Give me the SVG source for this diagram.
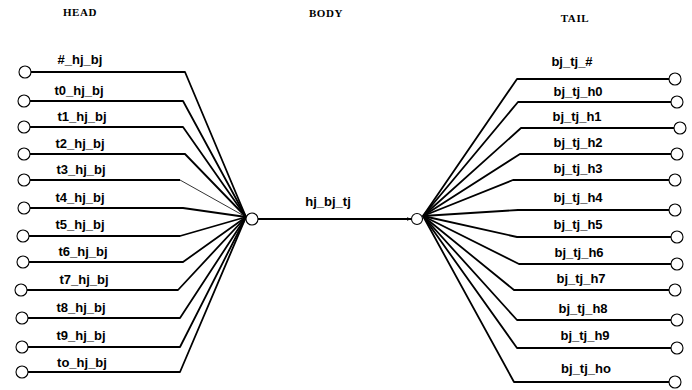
<svg xmlns="http://www.w3.org/2000/svg" width="692" height="390" viewBox="0 0 692 390">
<style>
.hdr{font-family:"Liberation Serif","Times New Roman",serif;font-weight:bold;font-size:11px;letter-spacing:0.6px;fill:#000;text-anchor:middle}
.lbl{font-family:"Liberation Sans",Arial,sans-serif;font-weight:bold;font-size:13px;fill:#000;text-anchor:middle}
.ln{fill:none;stroke:#000;stroke-width:1.8;stroke-linejoin:round}
.thin{stroke-width:0.8}
.port{fill:#fff;stroke:#000;stroke-width:1.1}
</style>
<defs>
<marker id="arr" viewBox="0 0 10 10" refX="9" refY="5" markerWidth="5" markerHeight="5" orient="auto" markerUnits="userSpaceOnUse">
<path d="M0,1 L10,5 L0,9 z" fill="#000"/>
</marker>
</defs>
<rect width="692" height="390" fill="#fff"/>
<g id="headers">
<text class="hdr" x="80" y="16">HEAD</text>
<text class="hdr" x="326" y="17">BODY</text>
<text class="hdr" x="575" y="22">TAIL</text>
</g>
<g id="connectors">
<polyline class="ln" points="31,72 185,72 246,217"/>
<polyline class="ln" points="30,101 183,101 246,217"/>
<polyline class="ln" points="30,127 183,127 246,217"/>
<polyline class="ln" points="30,154 185,154 246,217"/>
<polyline class="ln" points="30,180 180,180"/>
<line class="ln thin" x1="180" y1="180" x2="246" y2="217"/>
<polyline class="ln" points="30,208 183,208 246,217"/>
<polyline class="ln" points="29,236 180,236 246,217"/>
<polyline class="ln" points="29,262 183,262 246,217"/>
<polyline class="ln" points="27,290 178,290 246,217"/>
<polyline class="ln" points="28,318 180,318 246,217"/>
<polyline class="ln" points="28,347 180,347 246,217"/>
<polyline class="ln" points="28,372 180,372 246,217"/>
<line class="ln" x1="258" y1="219" x2="411" y2="219" stroke-width="1.6" marker-end="url(#arr)"/>
<polyline class="ln" points="669,79 517,79 423,216"/>
<polyline class="ln" points="671,102 518,102 423,216"/>
<polyline class="ln" points="674,128 521,128 423,216"/>
<polyline class="ln" points="671,154 520,154 423,216"/>
<polyline class="ln" points="669,180 513,180 423,216"/>
<polyline class="ln" points="669,210 518,210 423,216"/>
<polyline class="ln" points="671,237 517,237 423,216"/>
<polyline class="ln" points="671,264 519,264 423,216"/>
<polyline class="ln" points="669,290 514,290 423,216"/>
<polyline class="ln" points="671,320 517,320 423,216"/>
<polyline class="ln" points="671,348 517,348 423,216"/>
<polyline class="ln" points="669,382 514,382 423,216"/>
</g>
<g id="hub-head"><circle class="port" cx="252" cy="219" r="6"/></g>
<g id="hub-tail"><circle class="port" cx="417" cy="219" r="5.5"/></g>
<text class="lbl" x="328" y="206">hj_bj_tj</text>
<g id="h-hash"><circle class="port" cx="25" cy="72" r="6"/><text class="lbl" x="80" y="64">#_hj_bj</text></g>
<g id="h-t0"><circle class="port" cx="24" cy="101" r="6"/><text class="lbl" x="79" y="95">t0_hj_bj</text></g>
<g id="h-t1"><circle class="port" cx="24" cy="127" r="6"/><text class="lbl" x="82" y="121">t1_hj_bj</text></g>
<g id="h-t2"><circle class="port" cx="24" cy="154" r="6"/><text class="lbl" x="80" y="148">t2_hj_bj</text></g>
<g id="h-t3"><circle class="port" cx="24" cy="180" r="6"/><text class="lbl" x="81" y="174">t3_hj_bj</text></g>
<g id="h-t4"><circle class="port" cx="24" cy="208" r="6"/><text class="lbl" x="80" y="202">t4_hj_bj</text></g>
<g id="h-t5"><circle class="port" cx="23" cy="236" r="6"/><text class="lbl" x="80" y="229">t5_hj_bj</text></g>
<g id="h-t6"><circle class="port" cx="23" cy="262" r="6"/><text class="lbl" x="83" y="256">t6_hj_bj</text></g>
<g id="h-t7"><circle class="port" cx="21" cy="290" r="6"/><text class="lbl" x="84" y="284">t7_hj_bj</text></g>
<g id="h-t8"><circle class="port" cx="22" cy="318" r="6"/><text class="lbl" x="81" y="312">t8_hj_bj</text></g>
<g id="h-t9"><circle class="port" cx="22" cy="347" r="6"/><text class="lbl" x="81" y="340">t9_hj_bj</text></g>
<g id="h-to"><circle class="port" cx="22" cy="372" r="6"/><text class="lbl" x="82" y="367">to_hj_bj</text></g>
<g id="t-hash"><circle class="port" cx="675" cy="79" r="6"/><text class="lbl" x="572" y="66">bj_tj_#</text></g>
<g id="t-h0"><circle class="port" cx="677" cy="102" r="6"/><text class="lbl" x="578" y="96">bj_tj_h0</text></g>
<g id="t-h1"><circle class="port" cx="680" cy="128" r="6"/><text class="lbl" x="577" y="121">bj_tj_h1</text></g>
<g id="t-h2"><circle class="port" cx="677" cy="154" r="6"/><text class="lbl" x="578" y="147">bj_tj_h2</text></g>
<g id="t-h3"><circle class="port" cx="675" cy="180" r="6"/><text class="lbl" x="578" y="173">bj_tj_h3</text></g>
<g id="t-h4"><circle class="port" cx="675" cy="210" r="6"/><text class="lbl" x="578" y="202">bj_tj_h4</text></g>
<g id="t-h5"><circle class="port" cx="677" cy="237" r="6"/><text class="lbl" x="578" y="229">bj_tj_h5</text></g>
<g id="t-h6"><circle class="port" cx="677" cy="264" r="6"/><text class="lbl" x="579" y="257">bj_tj_h6</text></g>
<g id="t-h7"><circle class="port" cx="675" cy="290" r="6"/><text class="lbl" x="581" y="283">bj_tj_h7</text></g>
<g id="t-h8"><circle class="port" cx="677" cy="320" r="6"/><text class="lbl" x="583" y="313">bj_tj_h8</text></g>
<g id="t-h9"><circle class="port" cx="677" cy="348" r="6"/><text class="lbl" x="585" y="340">bj_tj_h9</text></g>
<g id="t-ho"><circle class="port" cx="675" cy="382" r="6"/><text class="lbl" x="586" y="373">bj_tj_ho</text></g>
</svg>
